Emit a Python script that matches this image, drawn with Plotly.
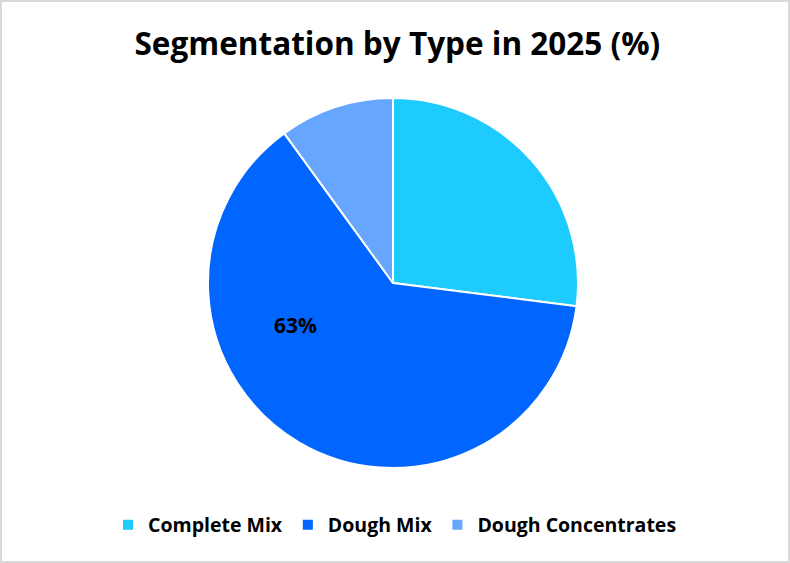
import plotly.graph_objects as go

categories = ["Complete Mix", "Dough Mix", "Dough Concentrates"]
values = [27, 63, 10]
colors = ["#1ECBFF", "#0066FF", "#66A6FF"]
labeled_index = 1

W, H = 790, 563
FONT = "Open Sans"
fig = go.Figure(go.Pie(
    labels=categories,
    values=values,
    sort=False,
    direction="clockwise",
    rotation=0,
    marker=dict(colors=colors, line=dict(color="white", width=2)),
    textinfo="none",
    hoverinfo="label+percent",
    domain=dict(x=[208 / W, 578 / W], y=[(H - 468) / H, (H - 98) / H]),
))

fig.update_layout(
    width=W, height=H,
    margin=dict(l=0, r=0, t=0, b=0),
    paper_bgcolor="white",
    title=dict(text="<b>Segmentation by Type in 2025 (%)</b>", x=0.503, xanchor="center",
               y=1 - 44 / H, yanchor="middle",
               font=dict(family=FONT, size=31.5, color="black")),
    showlegend=True,
    legend=dict(orientation="h", x=0.5, xanchor="center", y=1 - 525 / H, yanchor="middle",
                font=dict(family=FONT, size=19.5, color="black", weight="bold"),
                itemsizing="constant", traceorder="normal", itemwidth=30),
    annotations=[dict(text=f"<b>{values[labeled_index]}%</b>", xref="paper", yref="paper",
                      x=295 / W, y=1 - 325 / H, showarrow=False,
                      font=dict(family=FONT, size=21, color="black"))],
    shapes=[dict(type="rect", xref="paper", yref="paper", x0=0, y0=0, x1=1, y1=1,
                 line=dict(color="#D9D9D9", width=4))],
)

fig.write_html("out.html", config={"displayModeBar": False},
               post_script="document.body.style.margin='0';document.body.style.overflow='hidden';")
